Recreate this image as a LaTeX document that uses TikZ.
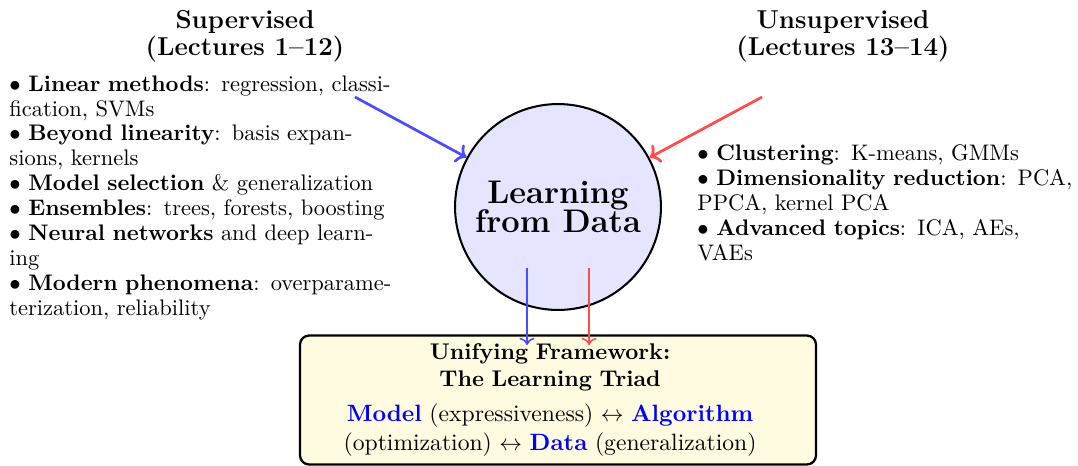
\documentclass[tikz,border=0pt]{standalone}
\usetikzlibrary{arrows.meta,calc}
\definecolor{boxfill}{RGB}{254,251,224}
\begin{document}
\begin{tikzpicture}[x=0.4405pt,y=-0.4405pt,
  ttl/.style={font=\fontsize{11.4}{11.9}\selectfont\bfseries, align=center, inner sep=0pt},
  lst/.style={font=\fontsize{9.9}{11}\selectfont, align=left, text width=168.5pt, inner sep=0pt, anchor=north west},
  hub/.style={circle, draw=black, line width=0.9pt, fill=blue!10, minimum size=90.7pt, inner sep=0pt, align=center, font=\fontsize{14.4}{13}\selectfont\bfseries},
  triad/.style={draw=black, line width=1pt, fill=boxfill, rounded corners=4pt, minimum width=227.3pt, minimum height=56.8pt, inner sep=0pt, text width=200pt, align=center, font=\fontsize{10}{12.3}\selectfont},
  bigarr/.style={->, very thick},
  smallarr/.style={->, line width=0.7pt}
]
\useasboundingbox (0,0) rectangle (1078,465);

\node[ttl] (sup) at (245,36) {Supervised\\(Lectures 1--12)};
\node[ttl] (unsup) at (843,36) {Unsupervised\\(Lectures 13--14)};

\node[lst] (suplist) at (9,75) {$\bullet$ \textbf{Linear methods}: regression, classification, SVMs\\
$\bullet$ \textbf{Beyond linearity}: basis expansions, kernels\\
$\bullet$ \textbf{Model selection} \& generalization\\
$\bullet$ \textbf{Ensembles}: trees, forests, boosting\\
$\bullet$ \textbf{Neural networks} and deep learning\\
$\bullet$ \textbf{Modern phenomena}: overparameterization, reliability};

\node[lst] (unsuplist) at (697,144.5) {$\bullet$ \textbf{Clustering}: K-means, GMMs\\
$\bullet$ \textbf{Dimensionality reduction}: PCA, PPCA, kernel PCA\\
$\bullet$ \textbf{Advanced topics}: ICA, AEs, VAEs};

\node[hub] (hub) at (558,207) {Learning\\from Data};

\node[triad] (triad) at (558,400) {\leftskip=-7pt plus 1fil\rightskip=0pt plus 1fil\parfillskip=0pt\relax
{\bfseries Unifying Framework:\\The Learning Triad\par}
\vspace{2.6pt}
\fontsize{10.4}{12.8}\selectfont \textcolor{blue}{\textbf{Model}} (expressiveness) $\leftrightarrow$ \textcolor{blue}{\textbf{Algorithm}}\\(optimization) $\leftrightarrow$ \textcolor{blue}{\textbf{Data}} (generalization)\par};

\coordinate (bs) at (355,97);
\coordinate (rs) at (762,97);
\draw[bigarr, blue!70] (bs) -- (hub);
\draw[bigarr, red!70] (rs) -- (hub);

\coordinate (b1) at (527,268);
\coordinate (b2) at (527,345);
\coordinate (r1) at (589,268);
\coordinate (r2) at (589,345);
\draw[smallarr, blue!70] (b1) -- (b2);
\draw[smallarr, red!70] (r1) -- (r2);
\end{tikzpicture}
\end{document}
